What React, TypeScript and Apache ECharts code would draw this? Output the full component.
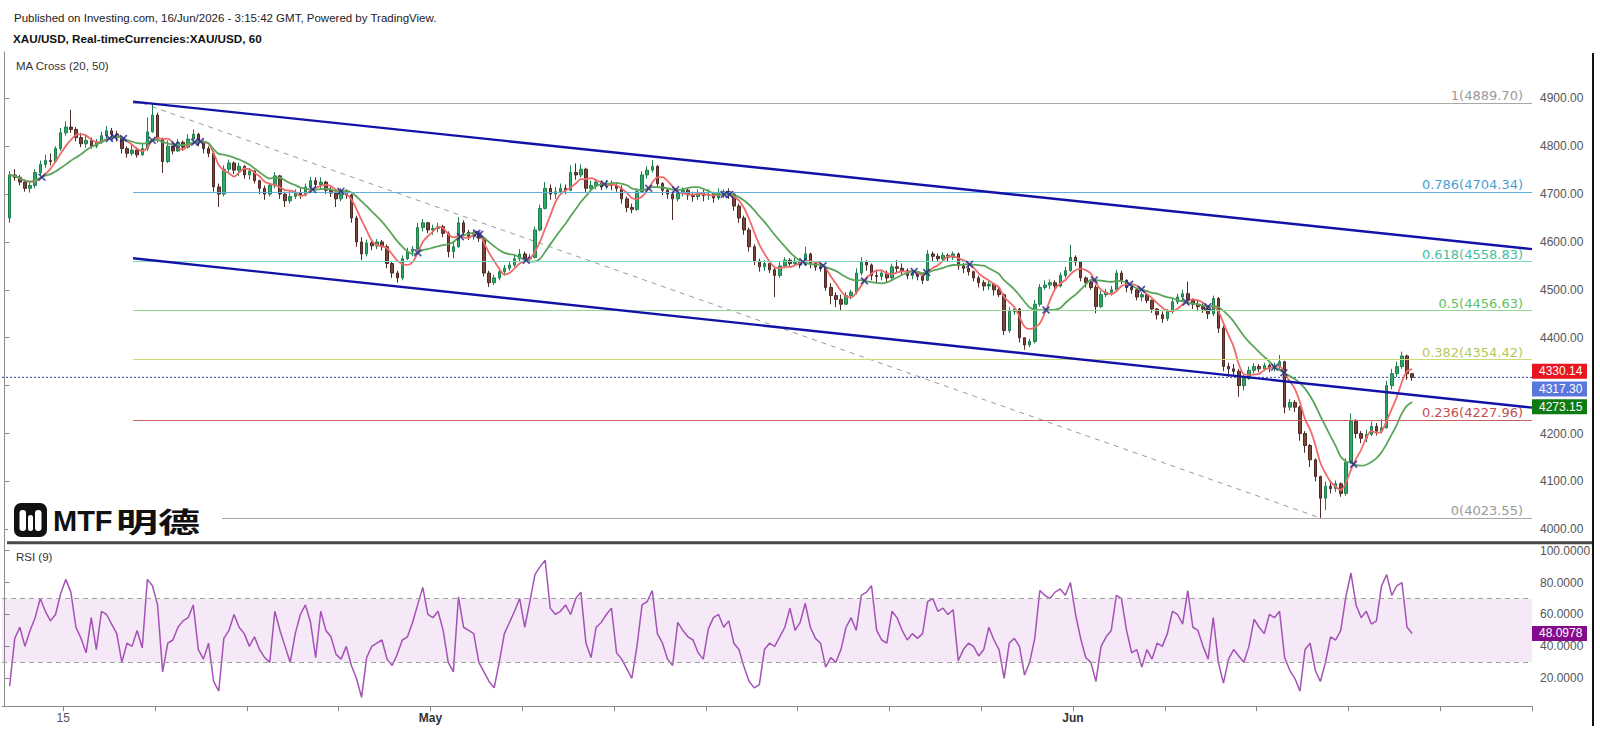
import { useEffect, useRef } from "react";
import * as echarts from "echarts";

// ---------- data (4-hour slots, slot 1 = 13 Apr 04:00, 6 slots per trading day) ----------
const SLOTS = 300;
const SLOTS_PER_DAY = 6;
const firstOpen = 4650;

const closes = [
  4740, 4735, 4725, 4712, 4718, 4745, 4762, 4770, 4768, 4795,
  4828, 4840, 4835, 4818, 4805, 4812, 4800, 4808, 4822, 4832,
  4825, 4818, 4795, 4785, 4792, 4782, 4795, 4830, 4865, 4815,
  4768, 4800, 4790, 4808, 4798, 4815, 4825, 4808, 4795, 4785,
  4715, 4700, 4752, 4765, 4750, 4758, 4740, 4748, 4728, 4712,
  4700, 4718, 4738, 4700, 4686, 4695, 4702, 4698, 4715, 4728,
  4720, 4725, 4708, 4702, 4690, 4705, 4698, 4650, 4600, 4575,
  4598, 4592, 4600, 4590, 4555, 4535, 4525, 4565, 4580, 4585,
  4630, 4640, 4625, 4628, 4632, 4618, 4580, 4590, 4640, 4620,
  4612, 4618, 4608, 4535, 4515, 4525, 4538, 4545, 4552, 4565,
  4575, 4565, 4568, 4625, 4670, 4712, 4700, 4705, 4712, 4708,
  4745, 4740, 4752, 4712, 4718, 4725, 4715, 4722, 4718, 4712,
  4690, 4672, 4668, 4705, 4740, 4750, 4758, 4722, 4708, 4700,
  4690, 4702, 4708, 4698, 4695, 4702, 4697, 4700, 4692, 4702,
  4705, 4700, 4675, 4650, 4625, 4590, 4560, 4548, 4555, 4542,
  4530, 4550, 4562, 4555, 4560, 4552, 4575, 4555, 4548, 4545,
  4505, 4488, 4480, 4470, 4488, 4495, 4535, 4558, 4552, 4530,
  4528, 4535, 4525, 4548, 4545, 4540, 4530, 4535, 4528, 4520,
  4575, 4570, 4565, 4572, 4568, 4575, 4550, 4545, 4538, 4525,
  4515, 4508, 4512, 4500, 4490, 4415, 4455, 4460, 4400, 4385,
  4392, 4470, 4505, 4510, 4515, 4508, 4530, 4540, 4568, 4558,
  4525, 4515, 4505, 4465, 4490, 4495, 4500, 4535, 4520, 4505,
  4500, 4485, 4490, 4478, 4460, 4448, 4440, 4455, 4475, 4485,
  4492, 4478, 4470, 4465, 4460, 4450, 4482, 4420, 4340, 4335,
  4330, 4300, 4315, 4332, 4340, 4335, 4342, 4336, 4340, 4350,
  4255, 4265, 4255, 4200, 4175, 4145, 4110, 4065, 4090, 4085,
  4095, 4075, 4140, 4225, 4200, 4190, 4198, 4215, 4205, 4212,
  4300, 4325, 4340, 4362, 4325, 4317.3,
];

const highs = [
  4748, 4752, 4740, 4730, 4725, 4752, 4770, 4782, 4785, 4800,
  4838, 4852, 4876, 4840, 4828, 4825, 4818, 4815, 4830, 4842,
  4838, 4832, 4820, 4800, 4805, 4798, 4805, 4860, 4890, 4870,
  4818, 4812, 4808, 4815, 4812, 4825, 4835, 4828, 4812, 4800,
  4790, 4722, 4760, 4772, 4768, 4766, 4760, 4755, 4750, 4730,
  4718, 4724, 4746, 4740, 4705, 4708, 4710, 4712, 4722, 4736,
  4735, 4735, 4728, 4715, 4708, 4712, 4710, 4700, 4655, 4610,
  4605, 4604, 4606, 4604, 4595, 4560, 4540, 4572, 4588, 4592,
  4640, 4648, 4642, 4636, 4640, 4636, 4622, 4600, 4652, 4645,
  4625, 4626, 4622, 4610, 4540, 4532, 4545, 4552, 4560, 4575,
  4585, 4580, 4575, 4632, 4678, 4725, 4720, 4715, 4722, 4720,
  4760, 4764, 4762, 4755, 4728, 4730, 4728, 4730, 4728, 4725,
  4718, 4695, 4680, 4712, 4748, 4758, 4771, 4760, 4725, 4712,
  4705, 4710, 4714, 4712, 4705, 4710, 4708, 4710, 4705, 4712,
  4710, 4712, 4705, 4680, 4655, 4630, 4595, 4565, 4562, 4560,
  4548, 4558, 4568, 4566, 4568, 4565, 4590, 4578, 4558, 4555,
  4548, 4514, 4495, 4490, 4495, 4500, 4545, 4568, 4562, 4555,
  4540, 4542, 4540, 4555, 4562, 4555, 4545, 4540, 4538, 4532,
  4583, 4580, 4576, 4578, 4576, 4580, 4578, 4556, 4552, 4540,
  4530, 4520, 4520, 4515, 4505, 4492, 4464, 4466, 4462, 4395,
  4398, 4479, 4512, 4520, 4522, 4520, 4536, 4548, 4594, 4572,
  4560, 4528, 4520, 4510, 4498, 4502, 4508, 4542, 4540, 4522,
  4512, 4502, 4495, 4492, 4480, 4462, 4455, 4460, 4482, 4492,
  4500, 4517, 4482, 4478, 4472, 4466, 4488, 4485, 4425, 4348,
  4345, 4335, 4322, 4340, 4347, 4345, 4348, 4346, 4348, 4364,
  4352, 4272, 4270, 4258, 4205, 4178, 4148, 4112, 4100, 4102,
  4102, 4098, 4148, 4242, 4230, 4205, 4208, 4225, 4222, 4230,
  4310, 4335, 4350, 4371, 4365, 4326,
];

const lows = [
  4640, 4728, 4718, 4705, 4703, 4712, 4740, 4755, 4760, 4765,
  4790, 4822, 4828, 4810, 4798, 4797, 4795, 4796, 4805, 4815,
  4815, 4810, 4785, 4776, 4780, 4776, 4780, 4790, 4828, 4808,
  4744, 4765, 4783, 4788, 4790, 4795, 4810, 4800, 4785, 4777,
  4705, 4673, 4695, 4745, 4742, 4738, 4732, 4730, 4722, 4700,
  4688, 4695, 4712, 4690, 4673, 4680, 4690, 4690, 4695, 4708,
  4712, 4710, 4700, 4694, 4673, 4685, 4690, 4640, 4590, 4562,
  4570, 4583, 4585, 4582, 4545, 4525, 4515, 4520, 4562, 4570,
  4582, 4622, 4618, 4615, 4620, 4610, 4568, 4566, 4588, 4612,
  4604, 4605, 4600, 4528, 4506, 4510, 4520, 4530, 4540, 4548,
  4560, 4558, 4556, 4565, 4622, 4668, 4688, 4690, 4698, 4700,
  4706, 4730, 4735, 4702, 4705, 4710, 4708, 4710, 4708, 4705,
  4680, 4662, 4660, 4665, 4702, 4732, 4745, 4715, 4698, 4690,
  4646, 4685, 4695, 4688, 4684, 4688, 4685, 4688, 4682, 4688,
  4692, 4690, 4665, 4640, 4615, 4580, 4552, 4538, 4540, 4535,
  4485, 4525, 4545, 4548, 4550, 4545, 4550, 4545, 4540, 4538,
  4498, 4470, 4464, 4458, 4470, 4480, 4490, 4530, 4540, 4520,
  4514, 4520, 4514, 4522, 4535, 4530, 4522, 4522, 4520, 4512,
  4518, 4560, 4558, 4560, 4560, 4562, 4542, 4535, 4530, 4518,
  4505, 4498, 4500, 4488, 4485, 4406, 4410, 4448, 4390, 4375,
  4380, 4388, 4465, 4500, 4502, 4500, 4505, 4525, 4538, 4550,
  4518, 4505, 4500, 4451, 4462, 4485, 4488, 4498, 4512, 4495,
  4492, 4478, 4476, 4472, 4452, 4438, 4431, 4435, 4450, 4470,
  4478, 4470, 4460, 4455, 4452, 4439, 4445, 4410, 4330, 4318,
  4320, 4277, 4290, 4312, 4326, 4328, 4330, 4328, 4330, 4332,
  4242, 4248, 4245, 4185, 4160, 4130, 4100, 4024, 4040, 4075,
  4078, 4068, 4070, 4138, 4190, 4180, 4182, 4195, 4196, 4200,
  4210, 4292, 4318, 4335, 4312, 4310,
];

const rsiValues = [
  15, 45, 52, 40, 50, 58, 70, 62, 56, 60,
  73, 82, 74, 52, 45, 36, 58, 38, 62, 60,
  54, 48, 30, 42, 40, 50, 39, 82, 78, 66,
  24, 42, 44, 52, 56, 58, 66, 38, 32, 42,
  18, 12, 45, 50, 60, 52, 48, 40, 46, 38,
  33, 30, 62, 50, 40, 30, 48, 60, 66, 55,
  33, 62, 50, 46, 35, 32, 40, 28, 20, 8,
  33, 40, 42, 44, 32, 28, 35, 44, 46, 55,
  66, 77, 60, 58, 62, 50, 30, 24, 71, 52,
  50, 48, 30, 24, 18, 14, 30, 48, 55, 62,
  70, 52, 68, 85, 90, 94, 64, 60, 62, 66,
  60, 70, 74, 42, 33, 52, 55, 60, 64, 36,
  32, 26, 20, 40, 66, 68, 75, 48, 42, 32,
  28, 55, 50, 46, 44, 36, 32, 51, 58, 60,
  52, 56, 42, 38, 27, 18, 14, 16, 38, 42,
  40, 46, 52, 64, 50, 55, 67, 52, 45, 42,
  27, 33, 30, 38, 52, 58, 50, 72, 74, 78,
  50, 44, 42, 62, 58, 50, 44, 48, 45, 48,
  68, 70, 62, 64, 60, 63, 31, 38, 42, 40,
  34, 38, 52, 44, 38, 20, 42, 45, 40, 22,
  30, 45, 75, 72, 70, 74, 76, 72, 80, 60,
  45, 33, 30, 18, 40, 46, 50, 72, 70, 50,
  36, 38, 27, 38, 32, 42, 40, 48, 62, 60,
  54, 75, 52, 50, 40, 32, 58, 30, 17, 32,
  38, 34, 30, 40, 57, 52, 48, 60, 58, 62,
  33, 25, 20, 12, 38, 42, 25, 18, 30, 46,
  44, 50, 71, 86, 66, 58, 62, 54, 56, 78,
  85, 72, 78, 80, 52, 48.0978,
];

const fibRatios = ["1", "0.786", "0.618", "0.5", "0.382", "0.236", "0"];
const fibPrices = [4889.7, 4704.34, 4558.83, 4456.63, 4354.42, 4227.96, 4023.55];
const fibLineColors = ["#a8a8a8", "#5fb0da", "#7fd9c2", "#93d893", "#cbdc7a", "#c96363", "#a8a8a8"];
const fibTextColors = ["#9a9a9a", "#4a9fd0", "#45c09c", "#62bf62", "#b3c957", "#c0504d", "#9a9a9a"];
const fibStartSlot = 25.2;

// channel and fib trend drawings in (slot, price)
const upperChannel = [[25.2, 4893], [299.5, 4585]];
const lowerChannel = [[25.2, 4566], [299.5, 4254]];
const fibTrend = [[27, 4889.7], [258, 4023.55]];

const priceTicks = [4000, 4100, 4200, 4300, 4400, 4500, 4600, 4700, 4800, 4900];
const priceLabels = [4000, 4100, 4200, 4400, 4500, 4600, 4700, 4800, 4900]; // 4300 hidden by the value tags
const rsiTicks = [20, 40, 60, 80, 100];
const tickDays = [2, 5, 8, 11, 14, 17, 20, 23, 26, 29, 32, 35, 38, 41, 44, 47, 50];
const labelDays = [2, 14, 35];
const labelTexts = ["15", "May", "Jun"];

const lastPrice = 4317.3;
const lastMa20 = 4330.14;
const lastMa50 = 4273.15;
const lastRsi = 48.0978;
const MA_FAST = 5; // 20 hourly bars ~ 5 four-hour slots
const MA_SLOW = 12; // 50 hourly bars ~ 12 four-hour slots

// ---------- helpers ----------
function movingAverage(values: number[], period: number) {
  return values.map((_, i) => {
    const from = Math.max(0, i - period + 1);
    let s = 0;
    for (let j = from; j <= i; j++) s += values[j];
    return s / (i - from + 1);
  });
}

const n = Math.min(closes.length, highs.length, lows.length);
const candleData: number[][] = [];
for (let i = 0; i < n; i++) {
  const o = i === 0 ? firstOpen : closes[i - 1];
  const c = closes[i];
  candleData.push([i + 1, o, c, Math.min(lows[i], o, c), Math.max(highs[i], o, c)]);
}
const ma20 = movingAverage(closes.slice(0, n), MA_FAST);
const ma50 = movingAverage(closes.slice(0, n), MA_SLOW);
const crossPoints: number[][] = [];
for (let i = 2; i < n; i++) {
  const d0 = ma20[i - 1] - ma50[i - 1];
  const d1 = ma20[i] - ma50[i];
  if ((d0 < 0 && d1 >= 0) || (d0 > 0 && d1 <= 0)) {
    const t = d0 / (d0 - d1);
    crossPoints.push([i + t, ma20[i - 1] + t * (ma20[i] - ma20[i - 1])]);
  }
}

const slotNames = Array.from({ length: SLOTS }, (_, i) => String(i));
const dayToSlotEdge = (d: number) => d * SLOTS_PER_DAY - 0.5;

const AXIS_GRAY = "#8a8a8a";
const LABEL_FONT = '"Liberation Sans", Arial, sans-serif';
const FIB_FONT = '"DejaVu Sans", Verdana, sans-serif';

const option: any = {
  animation: false,
  backgroundColor: "#ffffff",
  grid: [
    { left: 2, top: 52, width: 1530, height: 490.7 },
    { left: 2, top: 542.7, width: 1530, height: 163.5 },
  ],
  xAxis: [
    { type: "category", gridIndex: 0, data: slotNames, boundaryGap: true, show: false },
    { type: "value", gridIndex: 0, min: -0.5, max: SLOTS - 0.5, show: false },
    {
      type: "value",
      gridIndex: 1,
      min: -0.5,
      max: SLOTS - 0.5,
      axisLine: { show: true, lineStyle: { color: AXIS_GRAY, width: 1 } },
      axisTick: {
        show: true,
        length: 5,
        customValues: tickDays.map(dayToSlotEdge),
        lineStyle: { color: AXIS_GRAY },
      },
      splitLine: { show: false },
      axisLabel: {
        show: true,
        margin: 6,
        customValues: labelDays.map(dayToSlotEdge),
        formatter: (v: number) => {
          const idx = labelDays.map(dayToSlotEdge).findIndex((e) => Math.abs(e - v) < 0.01);
          if (idx < 0) return "";
          return idx === 0 ? `{d|${labelTexts[idx]}}` : `{m|${labelTexts[idx]}}`;
        },
        rich: {
          d: { fontSize: 12, color: "#555", fontFamily: LABEL_FONT },
          m: { fontSize: 12, color: "#333", fontWeight: "bold", fontFamily: LABEL_FONT },
        },
      },
    },
  ],
  yAxis: [
    {
      type: "value",
      gridIndex: 0,
      position: "right",
      min: 3972,
      max: 4996.7,
      axisLine: { show: true, lineStyle: { color: AXIS_GRAY } },
      axisTick: { show: true, length: 5, customValues: priceTicks, lineStyle: { color: AXIS_GRAY } },
      splitLine: { show: false },
      axisLabel: {
        show: true,
        margin: 8,
        customValues: priceLabels,
        formatter: (v: number) => v.toFixed(2),
        fontSize: 12,
        color: "#555",
        fontFamily: LABEL_FONT,
      },
    },
    {
      type: "value",
      gridIndex: 1,
      position: "right",
      min: 2.5,
      max: 105,
      axisLine: { show: true, lineStyle: { color: AXIS_GRAY } },
      axisTick: { show: true, length: 5, customValues: rsiTicks, lineStyle: { color: AXIS_GRAY } },
      splitLine: { show: false },
      axisLabel: {
        show: true,
        margin: 8,
        customValues: rsiTicks,
        formatter: (v: number) => v.toFixed(4),
        fontSize: 12,
        color: "#555",
        fontFamily: LABEL_FONT,
      },
    },
  ],
  series: [
    {
      type: "line",
      name: "last",
      xAxisIndex: 1,
      yAxisIndex: 0,
      data: [[-0.5, lastPrice], [SLOTS - 0.5, lastPrice]],
      symbol: "none",
      silent: true,
      lineStyle: { color: "#2f3f9e", width: 1, type: [2, 2] },
      z: 1,
    },
    {
      type: "line",
      name: "fibTrend",
      xAxisIndex: 1,
      yAxisIndex: 0,
      data: fibTrend,
      symbol: "none",
      silent: true,
      lineStyle: { color: "#9a9a9a", width: 1, type: [5, 5] },
      z: 1,
      markLine: {
        silent: true,
        symbol: ["none", "none"],
        animation: false,
        data: fibPrices.map((p, i) => [
          {
            coord: [fibStartSlot, p],
            lineStyle: { color: fibLineColors[i], width: 1, type: "solid" },
            label: {
              show: true,
              position: "insideEndTop",
              formatter: `${fibRatios[i]}(${p.toFixed(2)})`,
              color: fibTextColors[i],
              fontSize: 13,
              fontFamily: FIB_FONT,
              distance: [9, 1],
            },
          },
          { coord: [SLOTS - 0.5, p] },
        ]),
      },
    },
    {
      type: "candlestick",
      name: "XAU/USD",
      xAxisIndex: 0,
      yAxisIndex: 0,
      data: candleData,
      encode: { x: 0, y: [1, 2, 3, 4] },
      barWidth: 3,
      itemStyle: {
        color: "#2fa868",
        color0: "#7d4338",
        borderColor: "#1f7f4c",
        borderColor0: "#4e2a24",
        borderWidth: 1,
      },
      z: 3,
    },
    {
      type: "line",
      name: "MA20",
      xAxisIndex: 1,
      yAxisIndex: 0,
      data: ma20.map((v, i) => [i + 1, v]),
      symbol: "none",
      smooth: 0.3,
      lineStyle: { color: "#f06a6a", width: 1.8 },
      z: 4,
    },
    {
      type: "line",
      name: "MA50",
      xAxisIndex: 1,
      yAxisIndex: 0,
      data: ma50.map((v, i) => [i + 1, v]),
      symbol: "none",
      smooth: 0.3,
      lineStyle: { color: "#5aa55a", width: 1.8 },
      z: 4,
    },
    {
      type: "scatter",
      name: "cross",
      xAxisIndex: 1,
      yAxisIndex: 0,
      data: crossPoints,
      symbol: "path://M0,1.5L1.5,0L5,3.5L8.5,0L10,1.5L6.5,5L10,8.5L8.5,10L5,6.5L1.5,10L0,8.5L3.5,5Z",
      symbolSize: 8,
      itemStyle: { color: "#26268f" },
      z: 5,
    },
    {
      type: "line",
      name: "upper",
      xAxisIndex: 1,
      yAxisIndex: 0,
      data: upperChannel,
      symbol: "none",
      silent: true,
      lineStyle: { color: "#1212a8", width: 2.4 },
      z: 6,
    },
    {
      type: "line",
      name: "lower",
      xAxisIndex: 1,
      yAxisIndex: 0,
      data: lowerChannel,
      symbol: "none",
      silent: true,
      lineStyle: { color: "#1212a8", width: 2.4 },
      z: 6,
    },
    {
      type: "line",
      name: "RSI",
      xAxisIndex: 2,
      yAxisIndex: 1,
      data: rsiValues.map((v, i) => [i + 1, v]),
      symbol: "none",
      lineStyle: { color: "#a452b6", width: 1.5 },
      z: 4,
      markArea: {
        silent: true,
        itemStyle: { color: "rgba(156, 39, 176, 0.10)" },
        data: [[{ yAxis: 30 }, { yAxis: 70 }]],
      },
      markLine: {
        silent: true,
        symbol: ["none", "none"],
        label: { show: false },
        lineStyle: { color: "#a0a0a0", width: 1, type: [5, 4] },
        data: [{ yAxis: 70 }, { yAxis: 30 }],
      },
    },
  ],
};

function priceBox(id: string, cy: number, color: string, text: string) {
  return [
    {
      type: "rect",
      id: id + "-bg",
      z: 100,
      shape: { x: 1532, y: cy - 7.5, width: 55, height: 15 },
      style: { fill: color },
    },
    {
      type: "text",
      id: id + "-tx",
      z: 101,
      style: {
        x: 1539,
        y: cy,
        text,
        fill: "#ffffff",
        font: `12px ${LABEL_FONT}`,
        textVerticalAlign: "middle",
        verticalAlign: "middle",
      },
    },
  ];
}

function headerText(id: string, x: number, y: number, text: string, font: string, fill: string) {
  return {
    type: "text",
    id,
    z: 100,
    style: { x, y, text, font, fill, textVerticalAlign: "middle", verticalAlign: "middle" },
  };
}

export default function App() {
  const ref = useRef<HTMLDivElement>(null);
  useEffect(() => {
    if (!ref.current) return;
    const chart = echarts.init(ref.current, null, { renderer: "svg" });
    chart.setOption(option);

    const yMa20 = chart.convertToPixel({ yAxisIndex: 0 }, lastMa20) as number;
    const yRsi = chart.convertToPixel({ yAxisIndex: 1 }, lastRsi) as number;

    const graphics: any[] = [
      headerText(
        "pub",
        14,
        18,
        "Published on Investing.com, 16/Jun/2026 - 3:15:42 GMT, Powered by TradingView.",
        `11.5px ${LABEL_FONT}`,
        "#222"
      ),
      headerText("sym", 13, 38, "XAU/USD, Real-timeCurrencies:XAU/USD, 60", `bold 11.7px ${LABEL_FONT}`, "#111"),
      headerText("ma", 16, 66, "MA Cross (20, 50)", `11.5px ${LABEL_FONT}`, "#333"),
      headerText("rsi", 16, 557, "RSI (9)", `11.5px ${LABEL_FONT}`, "#333"),
      // pane separator & right border
      {
        type: "line",
        id: "sep",
        z: 90,
        shape: { x1: 7, y1: 542.7, x2: 1593, y2: 542.7 },
        style: { stroke: "#4a4a4a", lineWidth: 3 },
      },
      {
        type: "line",
        id: "border",
        z: 90,
        shape: { x1: 1593, y1: 53, x2: 1593, y2: 726 },
        style: { stroke: "#111", lineWidth: 2 },
      },
      // logo
      {
        type: "rect",
        id: "logo-bg",
        z: 95,
        shape: { x: 8, y: 496, width: 214, height: 44 },
        style: { fill: "#ffffff" },
      },
      {
        type: "rect",
        id: "logo-icon",
        z: 96,
        shape: { x: 14, y: 503, width: 33, height: 34, r: 7 },
        style: { fill: "#111111" },
      },
      {
        type: "rect",
        id: "logo-bar1",
        z: 97,
        shape: { x: 19.5, y: 510, width: 6.5, height: 21, r: 3 },
        style: { fill: "#ffffff" },
      },
      {
        type: "rect",
        id: "logo-bar2",
        z: 97,
        shape: { x: 28, y: 515, width: 5, height: 16, r: 2.5 },
        style: { fill: "#ffffff" },
      },
      {
        type: "rect",
        id: "logo-bar3",
        z: 97,
        shape: { x: 35, y: 510, width: 6.5, height: 21, r: 3 },
        style: { fill: "#ffffff" },
      },
      {
        type: "text",
        id: "logo-mtf",
        z: 97,
        style: {
          x: 53,
          y: 521,
          text: "MTF",
          font: `bold 29px ${LABEL_FONT}`,
          fill: "#111",
          textVerticalAlign: "middle",
          verticalAlign: "middle",
        },
      },
      {
        type: "text",
        id: "logo-cn",
        z: 97,
        x: 116,
        y: 521,
        scaleX: 1.5,
        style: {
          x: 0,
          y: 0,
          text: "明德",
          font: 'bold 28px "Noto Sans CJK SC", sans-serif',
          fill: "#111",
          textVerticalAlign: "middle",
          verticalAlign: "middle",
        },
      },
      ...priceBox("ma20", yMa20, "#e8161e", lastMa20.toFixed(2)),
      ...priceBox("last", yMa20 + 17.8, "#5a78dc", lastPrice.toFixed(2)),
      ...priceBox("ma50", yMa20 + 35.6, "#0e7a12", lastMa50.toFixed(2)),
      ...priceBox("rsiv", yRsi, "#840c8c", lastRsi.toFixed(4)),
    ];
    chart.setOption({ graphic: graphics });

    return () => chart.dispose();
  }, []);

  return (
    <div
      ref={ref}
      style={{ position: "fixed", left: 0, top: 0, width: 1600, height: 734, background: "#fff" }}
    />
  );
}
